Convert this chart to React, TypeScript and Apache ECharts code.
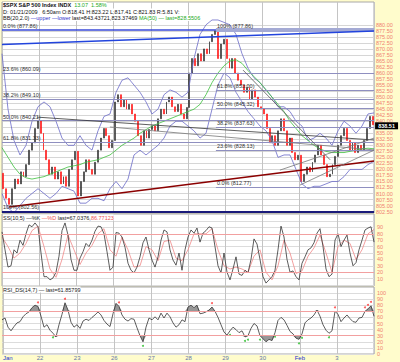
import React, { useEffect, useRef } from 'react';
import * as echarts from 'echarts';

// ---------- data ----------
const dayLabels = ['Jan', '22', '23', '26', '27', '28', '29', '30', 'Feb', '3'];
const monthLabels = ['Jan', 'Feb'];

const firstOpen = 818.41;
// 30-min closes, 13 per trading day
const closes = [
  812, 808, 805.5, 812, 816, 814, 819, 817, 822, 828, 831, 837, 840.2,
  835, 828, 824, 818, 821, 816, 819, 814, 817, 813, 820, 824, 827.5,
  809, 815, 819, 824, 820, 818, 823, 828, 833, 837, 834, 829, 832,
  848, 851, 846, 849, 845, 847, 843, 840, 834, 830, 836, 833, 836.6,
  838, 836, 841, 845, 843, 848, 850, 846, 844, 847, 843, 841, 845.7,
  860, 866, 863, 868, 865, 870, 868, 873, 876, 877.5, 866, 872, 874,
  866, 862, 866, 860, 857, 855, 852, 854, 849, 853, 850, 846, 845.1,
  843, 837, 831, 834, 830, 836, 841, 836, 830, 833, 827, 824, 825.9,
  815, 818, 821, 819, 823, 826, 830, 826, 822, 817, 818, 822, 825.4,
  830, 834, 837, 832, 828, 831, 827, 830, 828, 832, 837, 842, 838.51,
];

const bbUpper = [
  868, 845, 832, 826, 830, 840, 846, 848, 846, 840, 833, 830, 830, 834, 830, 828,
  836, 842, 843, 852, 857, 858, 855, 852, 848, 843, 845, 851, 853, 852, 850, 852,
  866, 876, 880, 882, 882, 881, 880, 876, 868, 862, 858, 856, 853, 850, 846, 846,
  844, 840, 838, 832, 833, 835, 833, 830, 836, 840, 838, 835, 838, 843, 843.44,
];
const bbLower = [
  810, 804, 802, 805, 808, 810, 812, 810, 808, 810, 813, 812, 811, 806, 806, 808,
  808, 807, 812, 815, 812, 816, 826, 828, 826, 828, 830, 833, 838, 840, 840, 838,
  836, 833, 835, 845, 855, 860, 858, 852, 848, 844, 841, 838, 836, 832, 825, 826,
  826, 820, 814, 812, 813, 813, 814, 815, 815, 817, 820, 820, 820, 822, 823.37,
];
const ma50 = [
  829, 825, 821, 818, 816.5, 816, 816.5, 817, 818, 819, 820, 821, 821.5, 822, 823, 823.5,
  824, 825, 826, 828, 830, 831.5, 833, 835, 836.5, 838, 839, 840, 841, 842, 843, 844,
  845, 847, 851, 856, 860, 863, 865, 865.5, 864, 861, 858.5, 856, 853, 850, 847, 844,
  840, 837, 834, 832, 830, 828.5, 827.5, 827, 827, 827, 827.5, 828, 828.5, 828.8, 828.55,
];

const stochK = [
  83, 55, 28, 30, 55, 50, 70, 62, 80, 94, 91, 97, 91, 50, 13, 13, 8, 11, 20, 45, 85,
  97, 78, 40, 23, 23, 42, 52, 65, 60, 70, 84, 92, 91, 80, 52, 23, 28, 82, 81, 75, 59,
  34, 23, 19, 28, 44, 66, 75, 55, 39, 28, 44, 70, 86, 83, 55, 39, 31, 50, 23, 55, 75,
  86, 81, 89, 67, 81, 85, 91, 89, 60, 30, 19, 50, 20, 8, 25, 44, 17, 15, 23, 19, 40,
  72, 64, 40, 13, 3, 8, 13, 23, 55, 92, 75, 40, 20, 22, 13, 8, 34, 44, 55, 58, 66,
  81, 88, 60, 25, 13, 17, 70, 80, 60, 70, 78, 50, 30, 35, 55, 70, 86, 89, 91, 67.04,
];
const stochD = [
  75, 60, 42, 50, 65, 85, 92, 60, 25, 12, 40, 78, 55, 32, 50, 62, 80, 88, 55, 45, 75,
  55, 28, 30, 60, 55, 38, 68, 70, 42, 38, 55, 80, 80, 80, 88, 55, 30, 25, 28, 25, 20,
  45, 55, 20, 8, 30, 70, 50, 18, 22, 45, 58, 78, 50, 20, 60, 70, 65, 40, 55, 80, 86.77,
];
const stochLevels = [20, 80];

const rsi = [
  56, 59, 44, 38, 45, 51, 53, 61, 66, 69, 76, 80, 78, 62, 44, 48, 39, 34, 28, 48, 65,
  84, 72, 52, 44, 48, 42, 54, 57, 55, 60, 64, 69, 64, 55, 49, 45, 66, 83, 78, 64, 57,
  54, 58, 57, 43, 30, 20, 44, 59, 56, 61, 56, 67, 59, 67, 61, 51, 44, 48, 56, 53, 77,
  80, 76, 80, 66, 67, 69, 72, 77, 70, 60, 48, 36, 31, 38, 44, 40, 35, 38, 28, 30, 42,
  50, 46, 30, 25, 20, 24, 22, 35, 55, 60, 56, 47, 37, 33, 26, 24, 33, 51, 56, 59, 64,
  72, 62, 48, 39, 34, 38, 70, 65, 53, 59, 64, 58, 53, 52, 59, 60, 70, 74, 79, 61.86,
];
const rsiLevels = [30, 70];
const rsiPeakIdx = [12, 21, 39, 70, 111, 121, 122, 123];
const rsiTroughIdx = [17, 47, 76, 81, 82, 86, 91, 99, 100, 109];

// Fibonacci retracements (start day, end day, price levels)
const fibA = { from: 0, to: 10, levels: [['0.0%', 877.86], ['23.6%', 860.09], ['38.2%', 849.10], ['50.0%', 840.21], ['61.8%', 831.33], ['100%', 802.56]] };
const fibB = { from: 5.75, to: 10, levels: [['0.0%', 812.77], ['23.6%', 828.13], ['38.2%', 837.63], ['50.0%', 845.32], ['61.8%', 853.0], ['100%', 877.86]] };

// hand-drawn trend lines: [day0, price0, day1, price1, colour]
const trendLines: [number, number, number, number, string][] = [
  [0.19, 804.4, 10, 823.5, '#8b0000'],
  [0, 871.8, 10, 877.4, '#2244dd'],
  [7.39, 881.7, 10, 876.7, '#2244dd'],
  [4.38, 881.6, 8.9, 862.9, '#2e9e5a'],
  [5.73, 877.8, 8.58, 802.3, '#555555'],
  [6.48, 861.2, 8.82, 824.0, '#555555'],
  [0.94, 841.7, 10, 832.2, '#333333'],
  [2.9, 837.6, 10, 828.1, '#777777'],
  [7.47, 819.7, 10, 833.0, '#777777'],
  [8.01, 813.5, 10, 828.0, '#777777'],
];

const lastClose = 838.51;
const hiddenPriceLabels = [837.5];

// ---------- helpers ----------
const spread = (arr: number[]) => arr.map((v, i) => [(i * 10) / (arr.length - 1), v]);
const FONT = 'Liberation Sans';

export default function App() {
  const ref = useRef<HTMLDivElement>(null);
  useEffect(() => {
    if (!ref.current) return;
    const chart = echarts.init(ref.current, undefined, { renderer: 'svg' });

    const bars = closes.map((c, i) => {
      const o = i === 0 ? firstOpen : closes[i - 1];
      return [o, c, Math.min(o, c), Math.max(o, c)];
    });

    const fibMark = (f: typeof fibA, isB: boolean) =>
      f.levels.map(([name, v], k) => {
        const lv = v as number;
        let color = '#8f8fc0';
        let width = 1;
        if (!isB && k === 0) { color = '#3a4ad8'; width = 1.5; }
        if (!isB && k === f.levels.length - 1) { color = '#1a1a7a'; width = 2; }
        if (isB && k === f.levels.length - 1) { color = '#a4aad4'; width = 4; }
        return [
          {
            coord: [f.from, lv],
            lineStyle: { color, width, type: 'solid' },
            label: {
              show: true,
              position: 'insideStartTop',
              distance: 1,
              formatter: `${name} (${lv.toFixed(2)})`,
              fontSize: 5.5,
              fontFamily: FONT,
              color: '#333',
            },
          },
          { coord: [f.to, lv] },
        ];
      });

    const trendMark = trendLines.map(([d0, p0, d1, p1, c]) => [
      { coord: [d0, p0], lineStyle: { color: c, width: c === '#8b0000' ? 1.6 : c === '#2244dd' ? 1.4 : 0.8, type: 'solid' }, label: { show: false } },
      { coord: [d1, p1] },
    ]);

    const frameX = (gridIndex: number, labels: boolean) => ({
      type: 'value', gridIndex, min: 0, max: 10, interval: 1,
      axisLine: { show: false }, axisTick: { show: false },
      splitLine: { show: true, lineStyle: { color: '#c4c4c4', width: 1 } },
      axisLabel: labels
        ? {
            show: true, margin: 1, fontSize: 6, fontFamily: FONT,
            alignMinLabel: 'left',
            formatter: (v: number) => {
              const t = dayLabels[v];
              if (!t) return '';
              return monthLabels.includes(t) ? `{m|${t}}` : `{d|${t}}`;
            },
            rich: { m: { color: '#2233cc', fontSize: 6, fontFamily: FONT }, d: { color: '#6677aa', fontSize: 6, fontFamily: FONT } },
          }
        : { show: false },
    });
    const hiddenX = (gridIndex: number, extra: any = {}) => ({
      type: 'value', gridIndex, min: 0, max: 10, show: false, ...extra,
    });
    const hiddenY = (gridIndex: number) => ({ type: 'value', gridIndex, min: 0, max: 1, show: false });
    const oscY = (gridIndex: number, hideEnds: boolean) => ({
      type: 'value', gridIndex, min: 0, max: 100, interval: 10, position: 'right',
      axisLine: { show: false }, axisTick: { show: false },
      splitLine: { show: true, lineStyle: { color: '#dcdcdc', width: 1 } },
      axisLabel: {
        margin: 3, fontSize: 5.5, fontFamily: FONT, color: '#f08070',
        formatter: (v: number) => (hideEnds && (v === 0 || v === 100) ? '' : String(v)),
      },
    });

    const refLines = (levels: number[]) => ({
      silent: true, symbol: 'none', animation: false,
      label: { show: false },
      lineStyle: { color: '#f2a0a0', width: 1, type: 'solid' },
      data: levels.map((v) => ({ yAxis: v })),
    });

    const txt = (x: number, y: number, text: string, rich: any) => ({
      type: 'text', x, y, z: 100,
      style: { text, rich, fontSize: 5.5, fontFamily: FONT, fill: '#111', verticalAlign: 'middle', backgroundColor: '#fff' },
    });
    const R = (c: string, bold = false) => ({ fill: c, fontSize: 5.5, fontFamily: FONT, fontWeight: bold ? 'bold' : 'normal' });

    chart.setOption({
      animation: false,
      backgroundColor: '#fffccc',
      grid: [
        { left: 2, right: 26, top: 2, height: 211, show: true, backgroundColor: '#fff', borderColor: '#a8a8a8', borderWidth: 1 },
        { left: 2, right: 26, top: 24.8, height: 186.8 },
        { left: 2, right: 26, top: 214, height: 72, show: true, backgroundColor: '#fff', borderColor: '#a8a8a8', borderWidth: 1 },
        { left: 2, right: 26, top: 221, height: 64 },
        { left: 2, right: 26, top: 287, height: 67, show: true, backgroundColor: '#fff', borderColor: '#a8a8a8', borderWidth: 1 },
        { left: 2, right: 26, top: 293, height: 61 },
      ],
      xAxis: [
        frameX(0, false),
        { type: 'category', gridIndex: 1, data: closes.map((_, i) => i), show: false, boundaryGap: true },
        hiddenX(1, { position: 'top' }),
        frameX(2, false),
        hiddenX(3),
        frameX(4, true),
        hiddenX(5),
      ],
      yAxis: [
        hiddenY(0),
        {
          type: 'value', gridIndex: 1, min: 802.5, max: 880, interval: 2.5, position: 'right',
          axisLine: { show: false }, axisTick: { show: false },
          splitLine: { show: true, lineStyle: { color: '#d6d6d6', width: 1 } },
          axisLabel: {
            margin: 2, fontSize: 5.5, fontFamily: FONT, color: '#f08070',
            formatter: (v: number) => (hiddenPriceLabels.includes(v) ? '' : v.toFixed(2)),
          },
        },
        hiddenY(2),
        oscY(3, true),
        hiddenY(4),
        oscY(5, false),
      ],
      series: [
        {
          type: 'line', xAxisIndex: 2, yAxisIndex: 1, data: [], clip: false,
          markLine: {
            silent: true, symbol: 'none', animation: false,
            data: [...fibMark(fibA, false), ...fibMark(fibB, true)],
          },
        },
        {
          type: 'line', xAxisIndex: 2, yAxisIndex: 1, data: [], clip: false,
          markLine: { silent: true, symbol: 'none', animation: false, data: trendMark },
        },
        { type: 'line', xAxisIndex: 2, yAxisIndex: 1, data: spread(bbUpper), symbol: 'none', clip: false, lineStyle: { color: '#6a6ac8', width: 0.8 } },
        { type: 'line', xAxisIndex: 2, yAxisIndex: 1, data: spread(bbLower), symbol: 'none', clip: false, lineStyle: { color: '#6a6ac8', width: 0.8 } },
        { type: 'line', xAxisIndex: 2, yAxisIndex: 1, data: spread(ma50), symbol: 'none', clip: false, lineStyle: { color: '#3cbf3c', width: 0.8 } },
        {
          type: 'candlestick', xAxisIndex: 1, yAxisIndex: 1, data: bars, barWidth: 1.4, clip: false,
          itemStyle: { color: '#333', color0: '#ff1010', borderColor: '#333', borderColor0: '#ff1010', borderWidth: 0.6 },
          markPoint: {
            silent: true, animation: false,
            data: [{
              coord: [closes.length - 1, lastClose], symbol: 'rect', symbolSize: [23, 7], symbolOffset: [14, 1],
              itemStyle: { color: '#000' },
              label: { show: true, formatter: lastClose.toFixed(2), color: '#fff', fontSize: 5.5, fontWeight: 'bold', fontFamily: FONT },
            }],
          },
        },
        // stochastics
        { type: 'line', xAxisIndex: 4, yAxisIndex: 3, data: spread(stochD), symbol: 'none', lineStyle: { color: '#f08888', width: 0.8 }, markLine: refLines(stochLevels) },
        { type: 'line', xAxisIndex: 4, yAxisIndex: 3, data: spread(stochK), symbol: 'none', lineStyle: { color: '#333', width: 0.8 } },
        // RSI fills
        {
          type: 'line', xAxisIndex: 6, yAxisIndex: 5, symbol: 'none', lineStyle: { opacity: 0 },
          data: spread(rsi.map((v) => Math.max(v, rsiLevels[1]))),
          areaStyle: { color: '#8c8c8c', origin: rsiLevels[1], opacity: 0.9 },
        },
        {
          type: 'line', xAxisIndex: 6, yAxisIndex: 5, symbol: 'none', lineStyle: { opacity: 0 },
          data: spread(rsi.map((v) => Math.min(v, rsiLevels[0]))),
          areaStyle: { color: '#8c8c8c', origin: rsiLevels[0], opacity: 0.9 },
        },
        { type: 'line', xAxisIndex: 6, yAxisIndex: 5, data: spread(rsi), symbol: 'none', lineStyle: { color: '#333', width: 0.8 }, markLine: refLines(rsiLevels) },
        {
          type: 'scatter', xAxisIndex: 6, yAxisIndex: 5, symbol: 'circle', symbolSize: 2, symbolOffset: [0, -4],
          itemStyle: { color: '#ff3030' },
          data: rsiPeakIdx.map((i) => [(i * 10) / (rsi.length - 1), rsi[i]]),
        },
        {
          type: 'scatter', xAxisIndex: 6, yAxisIndex: 5, symbol: 'circle', symbolSize: 2, symbolOffset: [0, 4],
          itemStyle: { color: '#22bb22' },
          data: rsiTroughIdx.map((i) => [(i * 10) / (rsi.length - 1), rsi[i]]),
        },
      ],
      graphic: [
        txt(3, 5, '{a|$SPX S&P 500 Index INDX}  {g|13.07  1.58%}', { a: R('#111', true), g: R('#22aa22') }),
        txt(3, 11.5, '{a|D: 01/21/2009   6:50am O:818.41 H:823.22 L:817.41 C:821.83 R:5.81 V:}', { a: R('#111') }),
        txt(3, 18, '{a|BB(20,2.0)} {b|—upper —lower} {a|last=843.43721,823.37469} {g|MA(50) — last=828.5506}', { a: R('#111'), b: R('#3333cc'), g: R('#22aa22') }),
        txt(3, 217.5, '{a|SS(10,5) —%K} {r|—%D} {a|last=67.0376,}{r|86.77123}', { a: R('#222'), r: R('#ee5555') }),
        txt(3, 289.5, '{a|RSI_DS(14,7) — last=61.85799}', { a: R('#222') }),
      ],
    });
    return () => chart.dispose();
  }, []);
  return <div ref={ref} style={{ position: 'absolute', left: 0, top: 0, width: 400, height: 362 }} />;
}
